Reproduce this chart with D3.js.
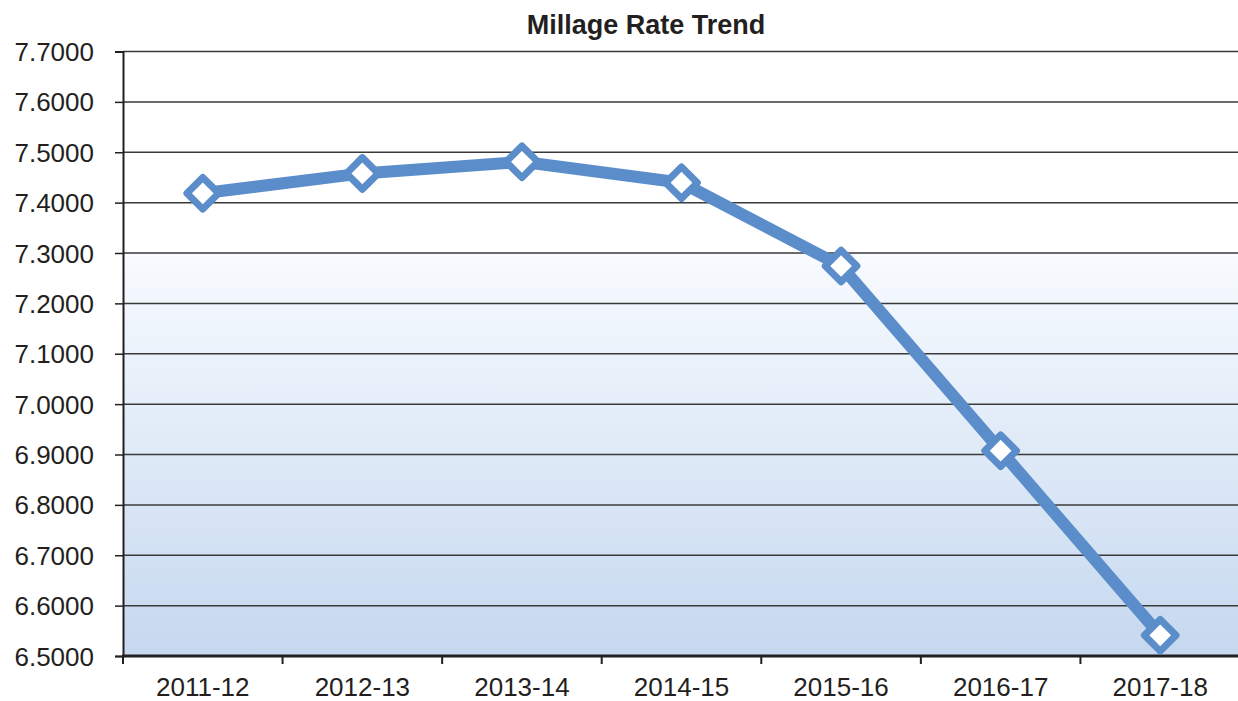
<!DOCTYPE html>
<html>
<head>
<meta charset="utf-8">
<script src="https://cdn.jsdelivr.net/npm/d3@7"></script>
<style>
	body { margin: 0; background: #fff; }
	text { font-family: "Liberation Sans", Arial, sans-serif; fill: #231f20; }
	.chartTitle { font-weight: bold; font-size: 27px; }
	.axisText text { font-size: 26px; }
</style>
</head>
<body>
<div id="chart"><svg width="1238" height="701"></svg></div>
<script>
// data
const categories = ["2011-12", "2012-13", "2013-14", "2014-15", "2015-16", "2016-17", "2017-18"];
const millage = [7.4185, 7.4580, 7.4810, 7.4396, 7.2742, 6.9076, 6.5411];
const yTicks = [6.5, 6.6, 6.7, 6.8, 6.9, 7.0, 7.1, 7.2, 7.3, 7.4, 7.5, 7.6, 7.7];

const data = categories.map((c, i) => ({year: c, rate: millage[i]}));

// setup
const margin = {top: 51.5, right: -2, bottom: 45, left: 123};
const width = 1238, height = 701;
const svg = d3.select("#chart").select("svg");

const xScale = d3.scaleBand()
	.domain(categories)
	.range([margin.left, width - margin.right])
	.padding(0);

const yScale = d3.scaleLinear()
	.domain([6.5, 7.7])
	.range([656, margin.top]);

// background gradient (lower part of plot)
const defs = svg.append("defs");
const grad = defs.append("linearGradient")
	.attr("id", "bgGrad")
	.attr("x1", 0).attr("y1", 0).attr("x2", 0).attr("y2", 1);
grad.append("stop").attr("offset", "0%").attr("stop-color", "#f8fbff");
grad.append("stop").attr("offset", "100%").attr("stop-color", "#c5d8ef");

svg.append("rect")
	.attr("x", margin.left)
	.attr("y", yScale(7.3))
	.attr("width", width - margin.right - margin.left)
	.attr("height", yScale(6.5) - yScale(7.3))
	.attr("fill", "url(#bgGrad)");

// grid
svg.append("g")
	.selectAll("line")
	.data(yTicks.filter(d => d > 6.5))
	.enter()
	.append("line")
	.attr("x1", margin.left)
	.attr("x2", width - margin.right)
	.attr("y1", d => yScale(d))
	.attr("y2", d => yScale(d))
	.attr("stroke", "#3a3a3a")
	.attr("stroke-width", 1.5);

// y axis
const yAxis = svg.append("g")
	.attr("class", "axisText")
	.attr("transform", `translate(${margin.left}, 0)`)
	.call(d3.axisLeft(yScale)
		.tickValues(yTicks)
		.tickFormat(d3.format(".4f"))
		.tickSize(8)
		.tickPadding(21)
	);
yAxis.select(".domain").attr("stroke", "#231f20").attr("stroke-width", 2);
yAxis.selectAll(".tick line").attr("stroke", "#231f20").attr("stroke-width", 1.5);
yAxis.selectAll(".tick text").attr("dy", "0.35em").attr("fill", "#231f20");

// x axis
const xAxis = svg.append("g")
	.attr("class", "axisText")
	.attr("transform", `translate(0, ${yScale(6.5)})`)
	.call(d3.axisBottom(xScale).tickSize(0).tickPadding(22));
xAxis.select(".domain").remove();
xAxis.selectAll(".tick text").attr("dy", "0.71em").attr("fill", "#231f20");

svg.append("g")
	.selectAll("line")
	.data(categories)
	.enter()
	.append("line")
	.attr("x1", d => xScale(d))
	.attr("x2", d => xScale(d))
	.attr("y1", yScale(6.5))
	.attr("y2", yScale(6.5) + 8)
	.attr("stroke", "#231f20")
	.attr("stroke-width", 2);

svg.append("line")
	.attr("x1", margin.left - 1)
	.attr("x2", width)
	.attr("y1", yScale(6.5))
	.attr("y2", yScale(6.5))
	.attr("stroke", "#231f20")
	.attr("stroke-width", 3);

// line
const cx = d => xScale(d.year) + xScale.bandwidth() / 2;

const line = d3.line()
	.x(cx)
	.y(d => yScale(d.rate));

svg.append("path")
	.datum(data)
	.attr("fill", "none")
	.attr("stroke", "#5a8dc9")
	.attr("stroke-width", 12)
	.attr("stroke-linejoin", "round")
	.attr("d", line);

// markers
const diamond = d3.symbol().type(d3.symbolSquare).size(500);

svg.append("g")
	.selectAll("path")
	.data(data)
	.enter()
	.append("path")
	.attr("d", diamond)
	.attr("transform", d => `translate(${cx(d)}, ${yScale(d.rate)}) rotate(45)`)
	.attr("fill", "#fff")
	.attr("stroke", "#5a8dc9")
	.attr("stroke-width", 7)
	.attr("stroke-linejoin", "round");

// title
svg.append("text")
	.attr("class", "chartTitle")
	.attr("x", 646)
	.attr("y", 34)
	.attr("text-anchor", "middle")
	.text("Millage Rate Trend");
</script>
</body>
</html>
